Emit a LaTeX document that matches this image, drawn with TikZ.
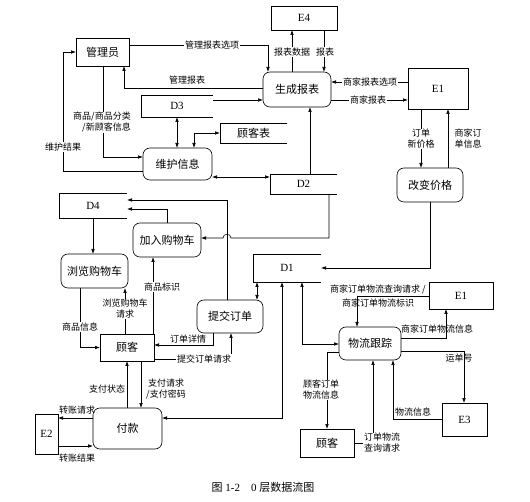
\documentclass[tikz,border=0pt]{standalone}
\usepackage{fontspec}
\setmainfont{Liberation Serif}
\newfontfamily\cjk{Noto Sans CJK SC}
\usetikzlibrary{arrows.meta}
\begin{document}
\begin{tikzpicture}[x=1pt,y=-1pt,
  line width=0.6pt,
  every node/.style={inner sep=0pt, outer sep=0pt},
  ent/.style={draw, line width=0.6pt, font=\fontsize{11}{13}\selectfont},
  proc/.style={draw, line width=0.6pt, rounded corners=7pt, font=\cjk\fontsize{11}{13}\selectfont},
  storen/.style={font=\fontsize{11}{13}\selectfont},
  lbl/.style={font=\cjk\fontsize{9}{11}\selectfont, align=center, inner sep=0.6pt},
  lblw/.style={lbl, fill=white},
  arr/.style={-{Latex[length=5pt,width=3.6pt]}},
  darr/.style={{Latex[length=5pt,width=3.6pt]}-{Latex[length=5pt,width=3.6pt]}}]
\fill[white] (0,0) rectangle (530,502);
\useasboundingbox (0,0) rectangle (530,502);

% external entities
\node[ent, minimum width=53pt, minimum height=28pt] (gly) at (102.5,52) {\cjk 管理员};
\node[ent, minimum width=66pt, minimum height=24pt] (E4) at (304,18) {E4};
\node[ent, minimum width=60pt, minimum height=41pt] (E1) at (438,88.5) {E1};
\node[ent, minimum width=64pt, minimum height=27pt] (E1b) at (461,295.5) {E1};
\node[ent, minimum width=45pt, minimum height=33pt] (E3) at (464.5,419.5) {E3};
\node[ent, minimum width=54pt, minimum height=27pt] (gk1) at (127,347.5) {\cjk 顾客};
\node[ent, minimum width=54pt, minimum height=28pt] (gk2) at (327,443) {\cjk 顾客};
\node[ent, minimum width=23pt, minimum height=40pt] (E2) at (46.5,434) {E2};

% processes
\node[proc, minimum width=68pt, minimum height=35pt] (sc) at (297,89.5) {生成报表};
\node[proc, minimum width=69pt, minimum height=32pt] (wh) at (177.5,164) {维护信息};
\node[proc, minimum width=66pt, minimum height=34pt] (gb) at (430,185) {改变价格};
\node[proc, minimum width=68pt, minimum height=34pt] (jr) at (167,240) {加入购物车};
\node[proc, minimum width=67pt, minimum height=34pt] (ll) at (94.5,271) {浏览购物车};
\node[proc, minimum width=66pt, minimum height=33pt] (tj) at (230,316.5) {提交订单};
\node[proc, minimum width=62pt, minimum height=33pt] (wl) at (370,343.5) {物流跟踪};
\node[proc, minimum width=69pt, minimum height=41pt] (fk) at (127.5,428.5) {付款};

% data stores
\node[storen, minimum width=72pt, minimum height=22pt] (D3) at (177,106) {D3};
\node[storen, minimum width=67pt, minimum height=20pt] (gkb) at (253.5,133) {\cjk 顾客表};
\node[storen, minimum width=67pt, minimum height=20pt] (D2) at (303.5,184) {D2};
\node[storen, minimum width=68pt, minimum height=25pt] (D4) at (93,205.5) {D4};
\node[storen, minimum width=68pt, minimum height=28pt] (D1) at (287,268) {D1};
\foreach \s in {D3,gkb,D2,D4,D1}
  \draw (\s.north east) -- (\s.north west) -- (\s.south west) -- (\s.south east);

% connectors
\draw[arr] (gly.east |- 0,45) -| (sc.north -| 268,0);
\draw[arr] (sc.west |- 0,88) -| (gly.south -| 124,0);
\draw[arr] (D3.east |- 0,100) -- (sc.west |- 0,100);
\draw[darr] (D3.south) -- (D3.south |- wh.north);
\draw[darr] (wh.north -| 194,0) |- (gkb.west);
\draw[arr] (gly.south -| 103,0) |- (wh.west |- 0,157);
\draw[arr] (wh.west |- 0,171) -| (gly.west -| 63,0) -- (gly.west);
\draw[darr] (wh.east |- 0,177) -- (D2.west |- 0,177);
\draw[arr] (D2.north -| 310,0) -- (sc.south -| 310,0);
\draw[arr] (sc.north -| 292,0) -- (E4.south -| 292,0);
\draw[arr] (E4.south -| 324,0) -- (sc.north -| 324,0);
\draw[arr] (E1.west |- 0,82) -- (sc.east |- 0,82);
\draw[arr] (sc.east |- 0,100) -- (E1.west |- 0,100);
\draw[arr] (E1.south -| 421,0) -- (gb.north -| 421,0);
\draw[arr] (gb.north -| 448,0) -- (E1.south -| 448,0);
\draw[arr] (gb.south) |- (D1.east);
\draw[arr] (D2.south -| 329,0) -- (329,238) -- (231,238)
  .. controls (231,233) and (223,233) .. (223,238) -- (jr.east |- 0,238);
\draw[arr] (tj.north -| 227,0) |- (D4.east |- 0,200);
\draw[arr] (jr.north) |- (D4.east |- 0,209);
\draw[arr] (D4.south) -- (D4.south |- ll.north);
\draw[arr] (ll.south -| 80,0) |- (gk1.west);
\draw[arr] (gk1.north -| 125,0) -- (ll.south -| 125,0);
\draw[arr] (gk1.north -| 153,0) -- (jr.south -| 153,0);
\draw[arr] (tj.south -| 213,0) |- (gk1.east |- 0,345);
\draw[arr] (gk1.east |- 0,359) -| (tj.south -| 231,0);
\draw[darr] (tj.north -| 257,0) -- (D1.south -| 257,0);
\draw[darr] (D1.south -| 282,0) |- (fk.east |- 0,418);
\draw[darr] (D1.south -| 302,0) |- (wl.west |- 0,344);
\draw[arr] (E1b.west |- 0,296) -| (wl.north -| 357,0);
\draw[arr] (wl.east |- 0,338) -| (E1b.south -| 446,0);
\draw[arr] (wl.east |- 0,351) -| (E3.north -| 464,0);
\draw[arr] (E3.west |- 0,419) -| (wl.south -| 393,0);
\draw[arr] (gk2.east |- 0,443) -| (wl.south -| 373,0);
\draw[arr] (wl.west |- 0,352) -| (gk2.north -| 327,0);
\draw[arr] (fk.north -| 127,0) -- (gk1.south -| 127,0);
\draw[arr] (gk1.south -| 141,0) -- (fk.north -| 141,0);
\draw[arr] (fk.west |- 0,418) -- (E2.east |- 0,418);
\draw[arr] (E2.east |- 0,446) -- (fk.west |- 0,446);

% labels
\node[lblw] (l1) at (212,45) {管理报表选项};
\node[lbl] (l2) at (187,80) {管理报表};
\node[lblw, align=right] (l3) at (102,122.5) {商品/商品分类\\/新顾客信息};
\node[lblw] (l4) at (63,147) {维护结果};
\node[lblw] (l5) at (292,52) {报表数据};
\node[lblw] (l6) at (325,52) {报表};
\node[lblw] (l7) at (370,82) {商家报表选项};
\node[lblw] (l8) at (368,100) {商家报表};
\node[lblw] (l9) at (421,139) {订单\\新价格};
\node[lbl] (l10) at (468,139) {商家订\\单信息};
\node[lblw] (l11) at (80,327) {商品信息};
\node[lblw] (l12) at (125,309) {浏览购物车\\请求};
\node[lblw] (l13) at (162,287) {商品标识};
\node[lbl] (l14) at (188,339.5) {订单详情};
\node[lblw] (l15) at (204,359) {提交订单请求};
\node[lbl] (l16) at (378,296) {商家订单物流查询请求 /\\[3pt]商家订单物流标识};
\node[lbl] (l17) at (437,329) {商家订单物流信息};
\node[lbl] (l18) at (459,358) {运单号};
\node[lbl] (l19) at (413,412) {物流信息};
\node[lblw] (l20) at (382,443) {订单物流\\查询请求};
\node[lblw] (l21) at (321,390) {顾客订单\\物流信息};
\node[lbl] (l22) at (107,389) {支付状态};
\node[lbl] (l23) at (166,389.5) {支付请求\\/支付密码};
\node[lbl] (l24) at (77,410) {转账请求};
\node[lbl] (l25) at (77,458) {转账结果};

\node[font=\fontsize{11}{13}\selectfont] (cap) at (263,487) {{\cjk 图} 1-2\quad 0 {\cjk 层数据流图}};
\end{tikzpicture}
\end{document}
